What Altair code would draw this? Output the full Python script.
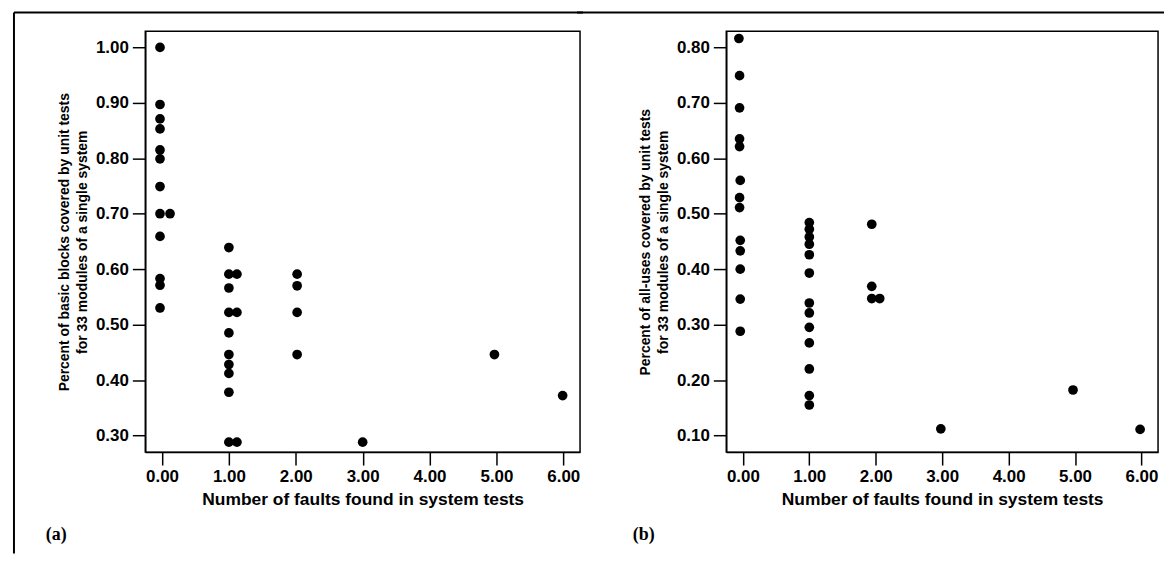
import altair as alt
import pandas as pd

# ---- data ----
bb_faults = [-0.03, -0.03, -0.03, -0.03, -0.03, -0.03, -0.03, -0.03, 0.12, -0.03, -0.03, -0.03, -0.03,
             1.0, 1.0, 1.12, 1.0, 1.0, 1.12, 1.0, 1.0, 1.0, 1.0, 1.0, 1.0, 1.12,
             2.02, 2.02, 2.02, 2.02,
             3.0, 4.97, 5.99]
bb_cov = [1.00, 0.897, 0.871, 0.853, 0.815, 0.799, 0.749, 0.700, 0.700, 0.659, 0.583, 0.571, 0.530,
          0.639, 0.591, 0.591, 0.566, 0.522, 0.522, 0.485, 0.446, 0.428, 0.412, 0.378, 0.288, 0.288,
          0.591, 0.570, 0.522, 0.446,
          0.288, 0.446, 0.372]

au_faults = [-0.06, -0.05, -0.05, -0.05, -0.05, -0.04, -0.05, -0.05, -0.04, -0.04, -0.04, -0.04, -0.04,
             1.0, 1.0, 1.0, 1.0, 1.0, 1.0, 1.0, 1.0, 1.0, 1.0, 1.0, 1.0, 1.0,
             1.94, 1.94, 1.94, 2.06,
             2.98, 4.97, 5.98]
au_cov = [0.816, 0.749, 0.691, 0.635, 0.621, 0.560, 0.529, 0.511, 0.452, 0.433, 0.400, 0.346, 0.288,
          0.484, 0.472, 0.458, 0.445, 0.426, 0.393, 0.339, 0.321, 0.295, 0.267, 0.220, 0.172, 0.155,
          0.481, 0.369, 0.347, 0.347,
          0.112, 0.182, 0.111]

x_ticks = [0, 1, 2, 3, 4, 5, 6]
bb_y_ticks = [0.3, 0.4, 0.5, 0.6, 0.7, 0.8, 0.9, 1.0]
au_y_ticks = [0.1, 0.2, 0.3, 0.4, 0.5, 0.6, 0.7, 0.8]
x_title = "Number of faults found in system tests"
bb_y_title = ["Percent of basic blocks covered by unit tests", "for 33 modules of a single system"]
au_y_title = ["Percent of all-uses covered by unit tests", "for 33 modules of a single system"]
panel_labels = ["(a)", "(b)"]

FONT = "Liberation Sans"
H = 423


def panel(faults, cov, yticks, ydom, ytitle, label, w, label_x, frame):
    df = pd.DataFrame({"faults": faults, "cov": cov})
    pts = alt.Chart(df).mark_circle(size=95, color="black", opacity=1).encode(
        x=alt.X("faults:Q",
                scale=alt.Scale(domain=[-0.25, 6.25], nice=False, zero=False),
                axis=alt.Axis(values=x_ticks, format=".2f", title=x_title,
                              titleFontSize=17.5, titlePadding=6, labelPadding=4)),
        y=alt.Y("cov:Q",
                scale=alt.Scale(domain=ydom, nice=False, zero=False),
                axis=alt.Axis(values=yticks, format=".2f", title=ytitle,
                              titleFontSize=14, titleLineHeight=18, titlePadding=6,
                              labelPadding=4)),
    )
    one = pd.DataFrame({"t": [label]})
    lab = alt.Chart(one).mark_text(font="Liberation Serif", fontWeight="bold", fontSize=18,
                                   align="left", baseline="middle", color="black").encode(
        text="t:N", x=alt.value(label_x), y=alt.value(506))
    layers = [pts, lab]
    # scanned page frame (top line, and left line for panel a)
    layers.append(alt.Chart(one).mark_rule(color="black", strokeWidth=2).encode(
        x=alt.value(frame[0]), x2=alt.value(frame[1]), y=alt.value(-19)))
    if frame[2]:
        layers.append(alt.Chart(one).mark_rule(color="black", strokeWidth=2).encode(
            x=alt.value(frame[0]), y=alt.value(-19), y2=alt.value(525)))
    return alt.layer(*layers).properties(width=w, height=H)


left = panel(bb_faults, bb_cov, bb_y_ticks, [0.27, 1.029], bb_y_title, panel_labels[0],
             437, -100, (-132, 440, True))
right = panel(au_faults, au_cov, au_y_ticks, [0.07, 0.829], au_y_title, panel_labels[1],
              434, -94, (-150, 440, False))

chart = alt.hconcat(left, right, spacing=147, bounds="flush").properties(
    padding={"left": 4, "top": 1, "right": 0, "bottom": 0}
).configure_view(stroke="black", strokeWidth=1.5).configure_axis(
    grid=False, domainColor="black", tickColor="black", labelColor="black", titleColor="black",
    labelFont=FONT, titleFont=FONT, labelFontSize=17, tickSize=13, tickWidth=1.5,
    domainWidth=1.5, titleFontWeight="bold", labelFontWeight="bold"
)

chart.save("out.html", embed_options={"renderer": "svg", "actions": False})
